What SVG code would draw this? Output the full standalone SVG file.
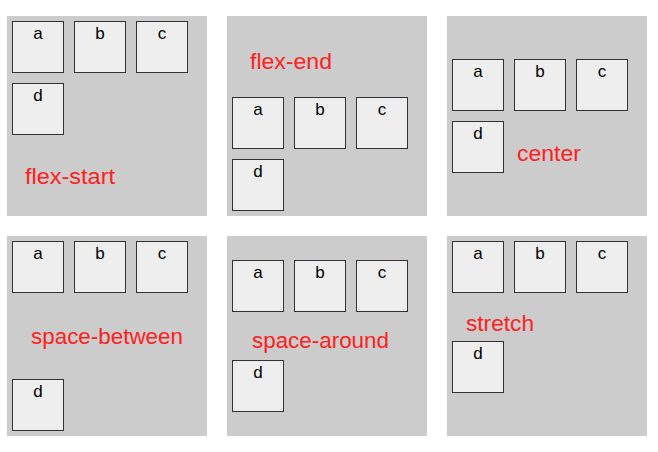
<svg xmlns="http://www.w3.org/2000/svg" width="658" height="452" viewBox="0 0 658 452">
<style>
.panel{fill:#cccccc}
.box rect{fill:#eeeeee;stroke:#333333;stroke-width:1}
.box text{font-family:"Liberation Sans",Arial,sans-serif;font-size:17px;fill:#000;text-anchor:middle}
.lbl{font-family:"Liberation Sans",Arial,sans-serif;font-size:22px;fill:#ff2020}
</style>
<rect width="658" height="452" fill="#ffffff"/>
<!-- Panel 1: flex-start -->
<g id="panel-flex-start">
<rect class="panel" x="7" y="16" width="200" height="200"/>
<g id="p1-a" class="box"><rect x="12.5" y="21.5" width="51" height="51"/><text x="38" y="39">a</text></g>
<g id="p1-b" class="box"><rect x="74.5" y="21.5" width="51" height="51"/><text x="100" y="39">b</text></g>
<g id="p1-c" class="box"><rect x="136.5" y="21.5" width="51" height="51"/><text x="162" y="39">c</text></g>
<g id="p1-d" class="box"><rect x="12.5" y="83.5" width="51" height="51"/><text x="38" y="101">d</text></g>
<text class="lbl" x="25" y="184" textLength="90" lengthAdjust="spacingAndGlyphs">flex-start</text>
</g>
<!-- Panel 2: flex-end -->
<g id="panel-flex-end">
<rect class="panel" x="227" y="16" width="200" height="200"/>
<g id="p2-a" class="box"><rect x="232.5" y="97.5" width="51" height="51"/><text x="258" y="115">a</text></g>
<g id="p2-b" class="box"><rect x="294.5" y="97.5" width="51" height="51"/><text x="320" y="115">b</text></g>
<g id="p2-c" class="box"><rect x="356.5" y="97.5" width="51" height="51"/><text x="382" y="115">c</text></g>
<g id="p2-d" class="box"><rect x="232.5" y="159.5" width="51" height="51"/><text x="258" y="177">d</text></g>
<text class="lbl" x="250" y="69" textLength="82" lengthAdjust="spacingAndGlyphs">flex-end</text>
</g>
<!-- Panel 3: center -->
<g id="panel-center">
<rect class="panel" x="447" y="16" width="200" height="200"/>
<g id="p3-a" class="box"><rect x="452.5" y="59.5" width="51" height="51"/><text x="478" y="77">a</text></g>
<g id="p3-b" class="box"><rect x="514.5" y="59.5" width="51" height="51"/><text x="540" y="77">b</text></g>
<g id="p3-c" class="box"><rect x="576.5" y="59.5" width="51" height="51"/><text x="602" y="77">c</text></g>
<g id="p3-d" class="box"><rect x="452.5" y="121.5" width="51" height="51"/><text x="478" y="139">d</text></g>
<text class="lbl" x="517" y="161" textLength="64" lengthAdjust="spacingAndGlyphs">center</text>
</g>
<!-- Panel 4: space-between -->
<g id="panel-space-between">
<rect class="panel" x="7" y="236" width="200" height="200"/>
<g id="p4-a" class="box"><rect x="12.5" y="241.5" width="51" height="51"/><text x="38" y="259">a</text></g>
<g id="p4-b" class="box"><rect x="74.5" y="241.5" width="51" height="51"/><text x="100" y="259">b</text></g>
<g id="p4-c" class="box"><rect x="136.5" y="241.5" width="51" height="51"/><text x="162" y="259">c</text></g>
<g id="p4-d" class="box"><rect x="12.5" y="379.5" width="51" height="51"/><text x="38" y="397">d</text></g>
<text class="lbl" x="31" y="344" textLength="152" lengthAdjust="spacingAndGlyphs">space-between</text>
</g>
<!-- Panel 5: space-around -->
<g id="panel-space-around">
<rect class="panel" x="227" y="236" width="200" height="200"/>
<g id="p5-a" class="box"><rect x="232.5" y="260.5" width="51" height="51"/><text x="258" y="278">a</text></g>
<g id="p5-b" class="box"><rect x="294.5" y="260.5" width="51" height="51"/><text x="320" y="278">b</text></g>
<g id="p5-c" class="box"><rect x="356.5" y="260.5" width="51" height="51"/><text x="382" y="278">c</text></g>
<g id="p5-d" class="box"><rect x="232.5" y="360.5" width="51" height="51"/><text x="258" y="378">d</text></g>
<text class="lbl" x="252" y="348" textLength="137" lengthAdjust="spacingAndGlyphs">space-around</text>
</g>
<!-- Panel 6: stretch -->
<g id="panel-stretch">
<rect class="panel" x="447" y="236" width="200" height="200"/>
<g id="p6-a" class="box"><rect x="452.5" y="241.5" width="51" height="51"/><text x="478" y="259">a</text></g>
<g id="p6-b" class="box"><rect x="514.5" y="241.5" width="51" height="51"/><text x="540" y="259">b</text></g>
<g id="p6-c" class="box"><rect x="576.5" y="241.5" width="51" height="51"/><text x="602" y="259">c</text></g>
<g id="p6-d" class="box"><rect x="452.5" y="341.5" width="51" height="51"/><text x="478" y="359">d</text></g>
<text class="lbl" x="466" y="331" textLength="68" lengthAdjust="spacingAndGlyphs">stretch</text>
</g>
</svg>
